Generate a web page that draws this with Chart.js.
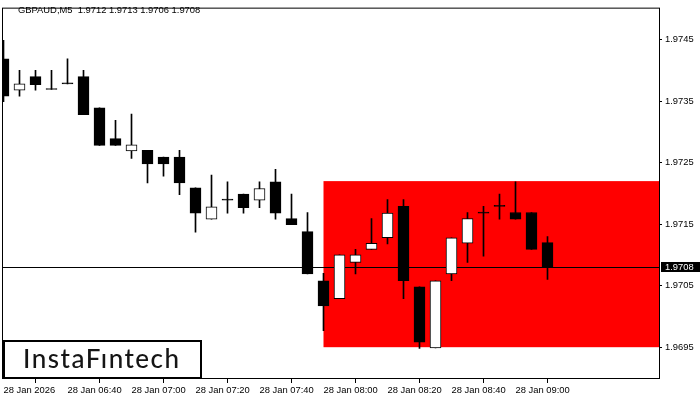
<!DOCTYPE html>
<html><head><meta charset="utf-8">
<script src="https://cdn.jsdelivr.net/npm/chart.js@4.4.1/dist/chart.umd.min.js"></script>
<style>html,body{margin:0;padding:0;background:#fff;}#wrap{width:700px;height:400px;position:relative;}</style>
</head><body><div id="wrap"><canvas id="c" width="700" height="400"></canvas></div>
<script>
const symbol = 'GBPAUD';
const timeframe = 'M5';
const times = ['06:20','06:25','06:30','06:35','06:40','06:45','06:50','06:55',
  '07:00','07:05','07:10','07:15','07:20','07:25','07:30','07:35','07:40','07:45','07:50','07:55',
  '08:00','08:05','08:10','08:15','08:20','08:25','08:30','08:35','08:40','08:45','08:50','08:55',
  '09:00','09:05','09:10'];
const opens  = [1.97419,1.97368,1.97390,1.97369,1.97378,1.97390,1.97339,1.97289,1.97269,1.97270,
  1.97259,1.97259,1.97209,1.97158,1.97189,1.97199,1.97189,1.97219,1.97159,1.97138,
  1.97058,1.97029,1.97088,1.97109,1.97128,1.97179,1.97048,1.96949,1.97069,1.97119,
  1.97168,1.97179,1.97169,1.97169,1.9712];
const highs  = [1.97449,1.97400,1.97400,1.97400,1.97419,1.97400,1.97339,1.97319,1.97329,1.97270,
  1.97259,1.97270,1.97209,1.97230,1.97219,1.97199,1.97219,1.97239,1.97199,1.97169,
  1.97070,1.97100,1.97109,1.97159,1.97190,1.97190,1.97048,1.97058,1.97128,1.97169,
  1.97179,1.97199,1.97219,1.97169,1.9713];
const lows   = [1.97349,1.97358,1.97368,1.97369,1.97378,1.97328,1.97278,1.97278,1.97257,1.97217,
  1.97228,1.97198,1.97137,1.97158,1.97168,1.97168,1.97177,1.97158,1.97149,1.97069,
  1.96977,1.97029,1.97069,1.97109,1.97118,1.97029,1.96948,1.96949,1.97058,1.97088,
  1.97098,1.97158,1.97158,1.97109,1.9706];
const closes = [1.97358,1.97378,1.97377,1.97369,1.97378,1.97328,1.97278,1.97278,1.97279,1.97248,
  1.97248,1.97217,1.97168,1.97178,1.97189,1.97177,1.97208,1.97168,1.97149,1.97069,
  1.97017,1.97100,1.97100,1.97119,1.97168,1.97058,1.96958,1.97058,1.97128,1.97159,
  1.97168,1.97179,1.97158,1.97109,1.9708];
const xTickIndex  = [0,4,8,12,16,20,24,28,32];
const xTickLabels = ['28 Jan 2026','28 Jan 06:40','28 Jan 07:00','28 Jan 07:20','28 Jan 07:40',
  '28 Jan 08:00','28 Jan 08:20','28 Jan 08:40','28 Jan 09:00'];
const yTicks = [1.9695,1.9705,1.9715,1.9725,1.9735,1.9745];
const zoneStartIndex = 20;
const zoneHigh = 1.9722;
const zoneLow = 1.9695;
const brandName = 'InstaF\u0131ntech';

const n = times.length;
const bodyData = times.map((t,i)=>({x:i, y:[opens[i], closes[i]]}));
const wickData = times.map((t,i)=>({x:i, y:[lows[i], highs[i]]}));
const bodyFill = times.map((t,i)=> closes[i] > opens[i] ? '#ffffff' : '#000000');
const fmt = v => v.toFixed(4);
const smallFont = '"Liberation Sans"';
const smallSize = 9.4;

const overlay = {
  id: 'overlay',
  beforeDatasetsDraw(chart) {
    const {ctx, chartArea:a, scales:{x, y}} = chart;
    ctx.save();
    const zx = x.getPixelForValue(zoneStartIndex);
    const zt = y.getPixelForValue(zoneHigh), zb = y.getPixelForValue(zoneLow);
    ctx.fillStyle = '#ff0000';
    ctx.fillRect(zx, zt, a.right - zx, zb - zt);
    const py = Math.round(y.getPixelForValue(closes[n-1]));
    ctx.fillStyle = '#000';
    ctx.fillRect(a.left, py, a.right - a.left, 1);
    ctx.restore();
  },
  afterDraw(chart) {
    const {ctx, chartArea:a, scales:{y}} = chart;
    ctx.save();
    ctx.strokeStyle = '#000'; ctx.lineWidth = 1;
    ctx.strokeRect(a.left + 0.5, a.top - 0.5, a.right - a.left, a.bottom - a.top);
    ctx.font = smallSize + 'px ' + smallFont;
    ctx.fillStyle = '#000'; ctx.textBaseline = 'middle'; ctx.textAlign = 'left';
    ctx.fillText(symbol + ',' + timeframe + '  ' + fmt(opens[n-1]) + ' ' + fmt(highs[n-1]) + ' ' + fmt(lows[n-1]) + ' ' + fmt(closes[n-1]), 18, 10.5);
    const py = Math.round(y.getPixelForValue(closes[n-1]));
    ctx.fillStyle = '#000';
    ctx.fillRect(a.right + 2, py - 5, 700 - a.right - 2, 10);
    ctx.fillStyle = '#fff';
    ctx.fillText(fmt(closes[n-1]), a.right + 6, py + 0.5);
    // brand box
    ctx.fillStyle = '#fff';
    ctx.fillRect(4, 341, 197, 37);
    ctx.lineWidth = 2; ctx.strokeStyle = '#000';
    ctx.strokeRect(4, 341, 197, 37);
    ctx.fillStyle = '#151515';
    ctx.font = '500 26px Lato';
    try { ctx.letterSpacing = '1.5px'; } catch (e) {}
    ctx.textBaseline = 'alphabetic';
    ctx.fillText(brandName, 23, 368);
    ctx.restore();
  }
};

new Chart(document.getElementById('c'), {
  type: 'bar',
  data: {
    datasets: [
      {data: bodyData, backgroundColor: bodyFill, borderColor: '#000', borderWidth: 1,
       barThickness: 11, grouped: false, minBarLength: 1, borderSkipped: false, order: 0},
      {data: wickData, backgroundColor: '#000', borderWidth: 0,
       barThickness: 1, grouped: false, order: 1}
    ]
  },
  options: {
    responsive: false, animation: false, devicePixelRatio: 1,
    layout: {padding: {left: 2, top: 3, right: 0, bottom: 0}},
    plugins: {legend: {display: false}, tooltip: {enabled: false}},
    scales: {
      x: {
        type: 'linear', min: -0.09375, max: 40.96875, offset: false,
        afterBuildTicks: s => { s.ticks = xTickIndex.map(v => ({value: v})); },
        afterFit: s => { s.height = 21; },
        grid: {drawOnChartArea: false, drawTicks: true, tickLength: 4, color: '#000'},
        border: {display: false},
        ticks: {align: 'start', padding: 2, autoSkip: false, maxRotation: 0, minRotation: 0,
          color: '#000', font: {family: 'Liberation Sans', size: smallSize},
          callback: (v, i) => xTickLabels[i]}
      },
      y: {
        position: 'right', min: 1.968983, max: 1.975004,
        afterBuildTicks: s => { s.ticks = yTicks.map(v => ({value: v})); },
        afterFit: s => { s.width = 41; },
        grid: {drawOnChartArea: false, drawTicks: true, tickLength: 3, color: '#000'},
        border: {display: false},
        ticks: {padding: 3, color: '#000', font: {family: 'Liberation Sans', size: smallSize},
          callback: v => fmt(v)}
      }
    }
  },
  plugins: [overlay]
});
</script>
</body></html>
